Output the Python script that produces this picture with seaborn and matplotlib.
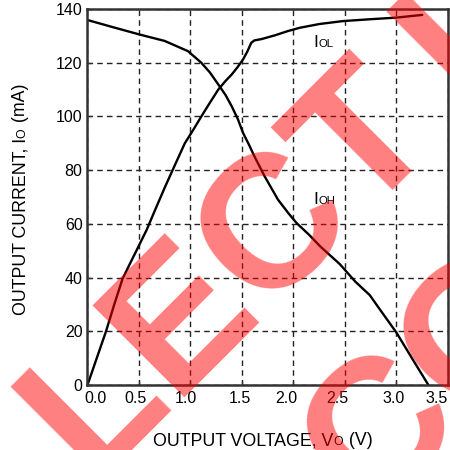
import matplotlib
matplotlib.use("Agg")
import matplotlib.pyplot as plt
import matplotlib.transforms as mtransforms
import seaborn as sns

# output current vs output voltage
vo_ol = [0, 0.09, 0.18, 0.26, 0.34, 0.41, 0.48, 0.575, 0.66, 0.75, 0.85, 0.945, 1.03,
         1.107, 1.19, 1.27, 1.34, 1.40, 1.46, 1.51, 1.55, 1.59, 1.62, 1.69, 1.82,
         1.947, 2.06, 2.25, 2.48, 2.75, 3.0, 3.25]
io_ol = [0, 10, 20, 30, 39.5, 45, 50.4, 57.8, 65.5, 73.5, 82, 90, 95.2,
         100.1, 105.2, 110, 113.2, 115.6, 118.5, 121.2, 124, 127.4, 128.3, 128.8, 130.2,
         131.8, 133, 134.4, 135.5, 136.2, 136.8, 137.8]

vo_oh = [0, 0.25, 0.506, 0.75, 0.976, 1.105, 1.19, 1.27, 1.34, 1.40, 1.46, 1.51, 1.57,
         1.62, 1.72, 1.85, 1.95, 2.03, 2.15, 2.26, 2.45, 2.6, 2.74, 2.86, 3.0, 3.15, 3.31]
io_oh = [135.9, 133.2, 130.5, 128.1, 124.3, 120, 116.3, 111.9, 108, 103.8, 99, 93.9, 89.3,
         85.2, 77.7, 69, 64, 60.3, 56, 51.6, 45, 38.5, 33.5, 27, 19.5, 10, 0]

x_grid = [0, 0.5, 1.0, 1.5, 2.0, 2.5, 3.0, 3.5]
x_label_pos = [0.08, 0.47, 0.96, 1.48, 1.93, 2.43, 2.97, 3.39]
x_label_txt = ["0.0", "0.5", "1.0", "1.5", "2.0", "2.5", "3.0", "3.5"]
y_ticks = [0, 20, 40, 60, 80, 100, 120, 140]

sns.set_theme(style="white")
plt.rcParams["font.family"] = ["Liberation Sans", "DejaVu Sans"]

fig = plt.figure(figsize=(4.5, 4.5), dpi=100)
ax = fig.add_axes([0.1944, 0.1444, 0.8011, 0.8356])

sns.lineplot(x=vo_ol, y=io_ol, ax=ax, color="black", lw=1.7)
sns.lineplot(x=vo_oh, y=io_oh, ax=ax, color="black", lw=1.7)

ax.set_xlim(0, 3.5)
ax.set_ylim(0, 140)
ax.set_xticks(x_grid, labels=[""] * len(x_grid))
ax.set_xticks(x_label_pos, labels=x_label_txt, minor=True)
ax.set_yticks(y_ticks, labels=[str(v) for v in y_ticks])
ax.tick_params(which="major", direction="in", length=3, width=1, color="#333333",
               labelsize=11.5, labelcolor="black", pad=3.5, left=True, bottom=True)
ax.tick_params(axis="x", which="minor", length=0, labelsize=11.5, pad=4.5, labelcolor="black")
ax.grid(True, which="major", ls=(0, (4, 3)), lw=1, color="#222222")
for s in ax.spines.values():
    s.set_color("#333333")
    s.set_linewidth(1.8)

# text made of pieces in two sizes (small-caps style subscripts)
renderer = fig.canvas.get_renderer()
px = mtransforms.IdentityTransform()


def pieces(parts, x, y, rot=0, center=True):
    texts, lens = [], []
    for s, fs in parts:
        t = fig.text(0, 0, s, fontsize=fs, rotation=rot, rotation_mode="anchor",
                     ha="left", va="baseline", color="black", transform=px)
        bb = t.get_window_extent(renderer)
        lens.append(bb.height if rot else bb.width)
        texts.append(t)
    pos = -sum(lens) / 2 if center else 0
    for t, n in zip(texts, lens):
        t.set_position((x, y + pos) if rot else (x + pos, y))
        pos += n + 0.5


pieces([("OUTPUT VOLTAGE, V", 12.8), ("O", 8.8), (" (V)", 12.8)], 262, 5)
pieces([("OUTPUT CURRENT, I", 12.8), ("O", 8.8), (" (mA)", 12.8)], 25, 250, rot=90)

for name, (lx, ly) in {"OL": (2.19, 125.7), "OH": (2.19, 67.4)}.items():
    x0, y0 = ax.transData.transform((lx, ly))
    pieces([("I", 12.5), (name, 8.2)], x0, y0, center=False)

# red diagonal watermark over the chart
wm = dict(rotation=45, rotation_mode="anchor", ha="left", va="baseline", fontsize=136,
          fontweight="bold", color="red", alpha=0.5, transform=px, zorder=10)
fig.text(94.8, -37.9, "LECT\u2009I", **wm)
fig.text(368.4, -65.5, "CO", **wm)

fig.savefig("out.png", dpi=100)
